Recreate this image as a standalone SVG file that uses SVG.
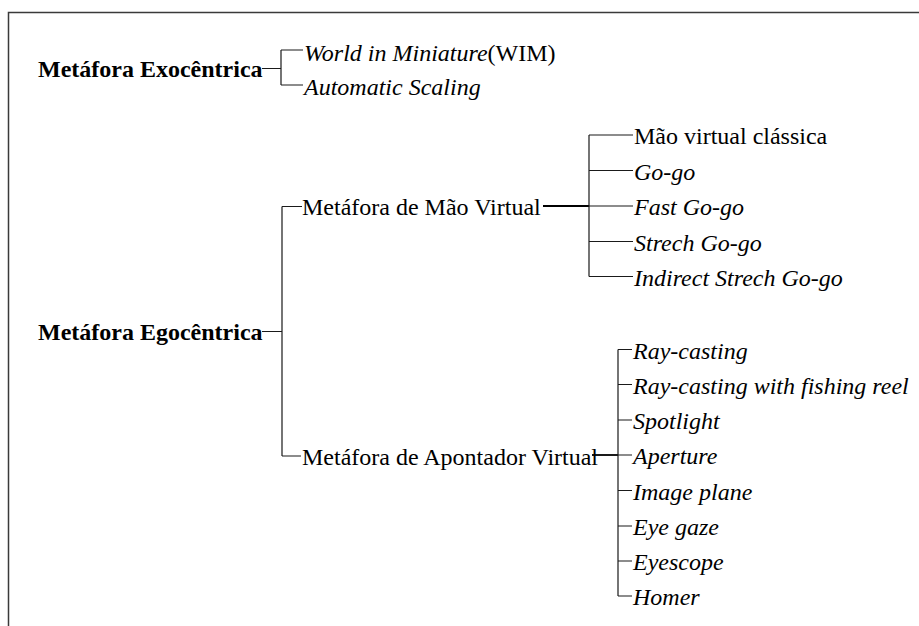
<svg xmlns="http://www.w3.org/2000/svg" width="919" height="626" viewBox="0 0 919 626">
<style>
text{font-family:"Liberation Serif","Times New Roman",serif;font-size:24px;fill:#000}
.b{font-weight:bold}
.i{font-style:italic}
.c{stroke:#1a1a1a;stroke-width:1.2;fill:none}
.s{stroke:#000;stroke-width:1.8;fill:none}
.frame{stroke:#3a3a3a;stroke-width:1.5;fill:none}
</style>
<rect width="919" height="626" fill="#fff"/>
<path class="frame" d="M8.5,626 V12.5 H919"/>
<g id="connectors">
<path class="c" d="M262,68.5 H281 M281,50 V85 M281,50 H303 M281,85 H303"/>
<path class="c" d="M262,331.5 H282 M282,206.5 V456 M282,206.5 H302 M282,456 H301"/>
<path class="s" d="M543,206 H589"/>
<path class="c" d="M589,135 V276.5 M589,135 H633 M589,170.5 H633 M589,206 H633 M589,241.5 H633 M589,276.5 H633"/>
<path class="s" d="M592,455 H618"/>
<path class="c" d="M618,349.5 V596 M618,349.5 H632 M618,384.5 H632 M618,420 H632 M618,455 H632 M618,490.5 H632 M618,526 H632 M618,561 H632 M618,596 H632"/>
</g>
<g id="exo"><text class="b" x="38" y="77">Metáfora Exocêntrica</text></g>
<g id="wim"><text x="304" y="60.5"><tspan class="i">World in Miniature</tspan>(WIM)</text></g>
<g id="autoscale"><text class="i" x="304" y="95">Automatic Scaling</text></g>
<g id="ego"><text class="b" x="38" y="340">Metáfora Egocêntrica</text></g>
<g id="maovirtual"><text x="302" y="215">Metáfora de Mão Virtual</text></g>
<g id="mvc"><text x="634" y="144">Mão virtual clássica</text></g>
<g id="gogo"><text class="i" x="634" y="180">Go-go</text></g>
<g id="fastgogo"><text class="i" x="634" y="215">Fast Go-go</text></g>
<g id="strechgogo"><text class="i" x="634" y="250.5">Strech Go-go</text></g>
<g id="indirect"><text class="i" x="634" y="285.5">Indirect Strech Go-go</text></g>
<g id="apontador"><text x="302" y="465">Metáfora de Apontador Virtual</text></g>
<g id="raycasting"><text class="i" x="633" y="358.5">Ray-casting</text></g>
<g id="fishing"><text class="i" x="633" y="393.5">Ray-casting with fishing reel</text></g>
<g id="spotlight"><text class="i" x="633" y="429">Spotlight</text></g>
<g id="aperture"><text class="i" x="633" y="464">Aperture</text></g>
<g id="imageplane"><text class="i" x="633" y="499.5">Image plane</text></g>
<g id="eyegaze"><text class="i" x="633" y="535">Eye gaze</text></g>
<g id="eyescope"><text class="i" x="633" y="570">Eyescope</text></g>
<g id="homer"><text class="i" x="633" y="605">Homer</text></g>
</svg>
